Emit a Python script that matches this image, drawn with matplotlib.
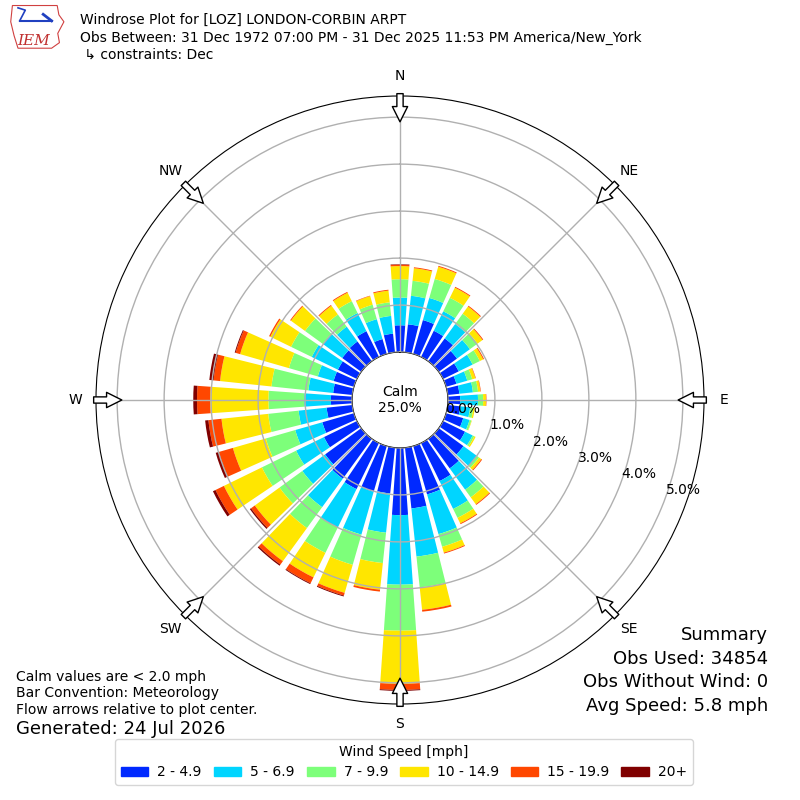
import numpy as np
import matplotlib
matplotlib.use("Agg")
import matplotlib.pyplot as plt
from matplotlib.patches import Patch, Polygon

# direction bins (deg, meteorological, from)
directions = np.arange(0, 360, 10)

# percent of obs per speed bin for each direction
spd_2_5 = [0.57, 0.60, 0.75, 0.62, 0.60, 0.48, 0.37, 0.23, 0.25, 0.26,
           0.27, 0.38, 0.52, 0.65, 0.78, 0.90, 1.07, 1.30, 1.43, 0.98,
           1.01, 1.09, 1.05, 0.95, 0.78, 0.70, 0.55, 0.45, 0.41, 0.45,
           0.45, 0.50, 0.52, 0.61, 0.33, 0.40]
spd_5_7 = [0.59, 0.61, 0.49, 0.46, 0.38, 0.34, 0.33, 0.24, 0.29, 0.38,
           0.21, 0.14, 0.18, 0.35, 0.56, 0.66, 0.88, 1.03, 1.48, 0.84,
           0.95, 0.91, 0.75, 0.60, 0.66, 0.60, 0.60, 0.57, 0.53, 0.35,
           0.62, 0.51, 0.39, 0.43, 0.44, 0.38]
spd_7_10 = [0.39, 0.32, 0.42, 0.32, 0.27, 0.20, 0.17, 0.11, 0.11, 0.11,
            0.07, 0.04, 0.04, 0.06, 0.20, 0.21, 0.28, 0.66, 0.98, 0.65,
            0.67, 0.60, 0.55, 0.60, 0.81, 0.65, 0.65, 0.76, 0.79, 0.64,
            0.49, 0.47, 0.32, 0.28, 0.32, 0.29]
spd_10_15 = [0.28, 0.27, 0.27, 0.24, 0.19, 0.13, 0.08, 0.07, 0.05, 0.06,
             0.03, 0.01, 0.03, 0.06, 0.18, 0.13, 0.13, 0.48, 1.13, 0.57,
             0.62, 0.58, 0.87, 0.65, 0.90, 0.73, 1.00, 1.24, 1.10, 1.08,
             0.49, 0.37, 0.23, 0.20, 0.19, 0.25]
spd_15_20 = [0.03, 0.02, 0.02, 0.02, 0.02, 0.02, 0.02, 0.01, 0.01, 0.01,
             0.00, 0.00, 0.00, 0.02, 0.02, 0.02, 0.02, 0.04, 0.13, 0.04,
             0.06, 0.14, 0.09, 0.10, 0.20, 0.31, 0.28, 0.28, 0.14, 0.10,
             0.03, 0.02, 0.02, 0.02, 0.01, 0.02]
spd_20p = [0.01, 0.00, 0.00, 0.00, 0.00, 0.00, 0.00, 0.00, 0.00, 0.00,
           0.00, 0.00, 0.00, 0.00, 0.00, 0.00, 0.00, 0.00, 0.02, 0.00,
           0.02, 0.02, 0.03, 0.03, 0.06, 0.07, 0.07, 0.08, 0.09, 0.02,
           0.00, 0.00, 0.00, 0.00, 0.00, 0.00]

speed_bins = [spd_2_5, spd_5_7, spd_7_10, spd_10_15, spd_15_20, spd_20p]
speed_labels = ["2 - 4.9", "5 - 6.9", "7 - 9.9", "10 - 14.9", "15 - 19.9", "20+"]
calm_pct = 25.0

compass = ["N", "NE", "E", "SE", "S", "SW", "W", "NW"]
rings = [0, 1, 2, 3, 4, 5]

colors = plt.cm.jet(np.linspace(0, 1, 7)[1:])

fig = plt.figure(figsize=(8, 8), dpi=100)
ax = fig.add_axes([0.12, 0.12, 0.76, 0.76], projection="polar")
ax.set_theta_zero_location("N")
ax.set_theta_direction(-1)

theta = np.deg2rad(directions)
width = np.deg2rad(8)
bottom = np.zeros(len(directions))
for vals, col in zip(speed_bins, colors):
    vals = np.array(vals)
    ax.bar(theta, vals, width=width, bottom=bottom, color=col, lw=0, zorder=1)
    bottom += vals

ax.set_rorigin(-1.02)
ax.set_ylim(0, 5.45)
ax.set_yticks(rings)
ax.set_yticklabels(["%.1f%%" % r for r in rings], fontsize=10)
ax.set_rlabel_position(110)
ax.set_xticks(np.deg2rad(np.arange(0, 360, 45)))
ax.set_xticklabels(compass, fontsize=10)
ax.tick_params(axis="x", pad=4)
ax.grid(True, color="#b0b0b0", lw=1)
ax.set_axisbelow(False)

# flow arrows at the rim
for ang in np.arange(0, 360, 45):
    t = np.deg2rad(ang)
    ax.annotate("", xy=(t, 4.9), xytext=(t, 5.5),
                arrowprops=dict(arrowstyle="simple,head_length=1.1,head_width=1.1,tail_width=0.45",
                                fc="white", ec="black", lw=1, shrinkA=0, shrinkB=0),
                annotation_clip=False, zorder=5)

ax.text(0.5, 0.5, "Calm\n%.1f%%" % calm_pct, transform=ax.transAxes,
        ha="center", va="center", fontsize=10, zorder=6)

# header
fig.text(0.1, 0.975, "Windrose Plot for [LOZ] LONDON-CORBIN ARPT", fontsize=10, va="center")
fig.text(0.1, 0.953, "Obs Between: 31 Dec 1972 07:00 PM - 31 Dec 2025 11:53 PM America/New_York",
         fontsize=10, va="center")
fig.text(0.1, 0.932, " \u21b3 constraints: Dec", fontsize=10, va="center")

# small IEM logo
logo = fig.add_axes([0.012, 0.938, 0.07, 0.058])
logo.axis("off")
logo.set_xlim(0, 10)
logo.set_ylim(0, 10)
logo.add_patch(Polygon([[0.5, 9.5], [8.5, 9.5], [8.8, 7.5], [9.7, 6.0], [8.6, 3.5],
                        [8.9, 1.5], [7.5, 0.3], [1.5, 0.3], [0.8, 3], [0.2, 6]],
                       closed=True, fill=False, ec="#d04040", lw=0.8))
logo.plot([1.8, 7.5], [6.2, 6.2], color="#2040c0", lw=1.5)
logo.plot([1.8, 2.8, 1.5], [6.2, 8.5, 9.0], color="#2040c0", lw=1.2)
logo.plot([6.0, 7.5], [7.6, 6.2], color="#2040c0", lw=2)
logo.text(1.3, 1.0, "IEM", color="#c03030", fontsize=11, family="serif", style="italic")

# notes
fig.text(0.02, 0.154, "Calm values are < 2.0 mph", fontsize=10, va="center")
fig.text(0.02, 0.134, "Bar Convention: Meteorology", fontsize=10, va="center")
fig.text(0.02, 0.113, "Flow arrows relative to plot center.", fontsize=10, va="center")
fig.text(0.02, 0.089, "Generated: 24 Jul 2026", fontsize=13, va="center")

fig.text(0.96, 0.206, "Summary", fontsize=13, ha="right", va="center")
fig.text(0.96, 0.176, "Obs Used: 34854", fontsize=13, ha="right", va="center")
fig.text(0.96, 0.147, "Obs Without Wind: 0", fontsize=13, ha="right", va="center")
fig.text(0.96, 0.118, "Avg Speed: 5.8 mph", fontsize=13, ha="right", va="center")

handles = [Patch(color=c) for c in colors]
fig.legend(handles, speed_labels, loc="lower center", bbox_to_anchor=(0.505, 0.01),
           ncol=6, title="Wind Speed [mph]", fontsize=10, title_fontsize=10,
           handlelength=2.0, handleheight=0.65, handletextpad=0.65, columnspacing=0.85)

fig.savefig("out.png", dpi=100)
